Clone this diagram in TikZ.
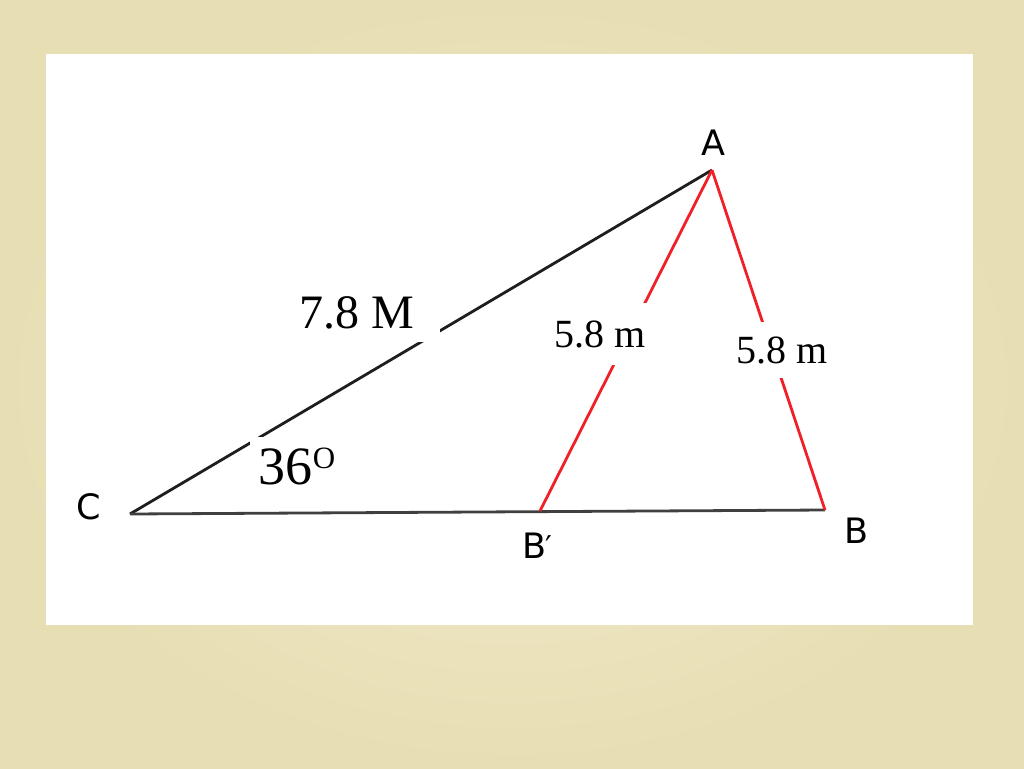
\documentclass[tikz,border=0pt]{standalone}
\usepackage{fontspec}
\setmainfont{Liberation Serif}
\newfontfamily\lblfont{DejaVu Sans}
\definecolor{paper}{RGB}{232,222,180}
\definecolor{paperlight}{RGB}{242,236,206}
\definecolor{redline}{RGB}{240,32,40}
\definecolor{darkline}{RGB}{30,30,30}
\tikzset{
  vertex/.style={font=\lblfont\fontsize{35}{38}\selectfont, inner sep=0pt},
  measure/.style={fill=white, inner sep=0pt},
  blackside/.style={draw=darkline, line width=2.8pt},
  redside/.style={draw=redline, line width=2.8pt},
}
\begin{document}
\begin{tikzpicture}[x=1pt,y=-1pt]
\useasboundingbox (0,0) rectangle (1024,768);
\shade[inner color=paperlight, outer color=paper] (0,0) rectangle (1024,768);
\fill[white] (46,54) rectangle (973,625);
% vertices
\coordinate (C) at (130,514);
\coordinate (A) at (712,170);
\coordinate (B) at (825,510);
\coordinate (Bp) at (540,511);
% sides
\draw[blackside] (C) -- (A);
\draw[darkline!85, line width=2.8pt] (C) -- (B);
\draw[redside] (A) -- (Bp);
\draw[redside] (A) -- (B);
% measure labels (white boxes break the lines)
\node[measure, minimum width=165, minimum height=58] (l78) at (357,313)
  {\fontsize{48}{52}\selectfont 7.8 M};
\node[measure, minimum width=95, minimum height=58] (l36) at (297,466)
  {\fontsize{54}{58}\selectfont 36\raisebox{16pt}{\fontsize{31}{34}\selectfont O}};
\node[measure, minimum width=100, minimum height=62] (l58a) at (600,334)
  {\fontsize{40}{44}\selectfont 5.8 m};
\node[measure, minimum width=100, minimum height=56] (l58b) at (782,350)
  {\fontsize{40}{44}\selectfont 5.8 m};
% vertex labels
\node[vertex] (nA) at (713,143) {A};
\node[vertex] (nC) at (89,507) {C};
\node[vertex] (nB) at (856,531) {B};
\node[vertex, anchor=center] (nBp) at (537,546) {B\kern-1pt\raisebox{1pt}{\fontsize{30}{30}\selectfont ′}};
\end{tikzpicture}
\end{document}
